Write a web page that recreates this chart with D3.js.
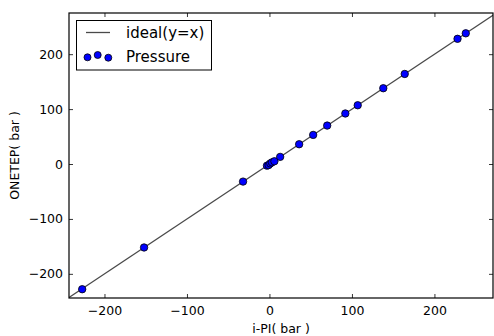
<!DOCTYPE html>
<html>
<head>
<meta charset="utf-8">
<script src="https://cdn.jsdelivr.net/npm/d3@7"></script>
<style>
  body { margin: 0; background: #fff; }
  svg { display: block; }
  svg text { font-family: "DejaVu Sans", sans-serif; }
</style>
</head>
<body>
<svg id="chart" width="494" height="336"></svg>
<script>
// pressures (bar)
const ipiPressure = [-227, -152, -32, -3, -1, 1, 3, 6, 13, 36, 53, 70, 92, 107, 138, 164, 228, 238];
const onetepPressure = [-228, -152, -32, -3, -2, 1, 3, 5, 13, 36, 53, 70, 92, 107, 138, 164, 228, 238];
const xTicks = [-200, -100, 0, 100, 200];
const yTicks = [-200, -100, 0, 100, 200];
const xDomain = [-243, 271];
const yDomain = [-244, 275];
const legendLabels = ["ideal(y=x)", "Pressure"];

const svg = d3.select("#chart");
const margin = { left: 69, right: 1, top: 13, bottom: 38 };
const width = 494 - margin.left - margin.right;
const height = 336 - margin.top - margin.bottom;

const x = d3.scaleLinear().domain(xDomain).range([margin.left, margin.left + width]);
const y = d3.scaleLinear().domain(yDomain).range([margin.top + height, margin.top]);

svg.append("defs").append("clipPath").attr("id", "plot-clip")
    .append("rect")
    .attr("x", margin.left).attr("y", margin.top)
    .attr("width", width).attr("height", height);

const plot = svg.append("g").attr("clip-path", "url(#plot-clip)");

// ideal line y = x
plot.append("line")
    .attr("x1", x(-300)).attr("y1", y(-300))
    .attr("x2", x(300)).attr("y2", y(300))
    .attr("stroke", "#4a4a4a")
    .attr("stroke-width", 1.3);

const points = ipiPressure.map((v, i) => ({ x: v, y: onetepPressure[i] }));
plot.selectAll(".pt")
    .data(points)
    .enter()
    .append("circle")
    .attr("class", "pt")
    .attr("cx", d => x(d.x))
    .attr("cy", d => y(d.y))
    .attr("r", 3.7)
    .attr("fill", "#0000ff")
    .attr("stroke", "#000")
    .attr("stroke-width", 0.8);

// axes with inward ticks on all sides
const tickLen = 4;
const minus = d => String(d).replace("-", "\u2212");
function styleAxis(sel) {
    sel.attr("font-family", null).attr("font-size", null);
    sel.select(".domain").remove();
    sel.selectAll(".tick line").attr("stroke", "#000").attr("stroke-width", 0.8);
    sel.selectAll("text").attr("fill", "#000").style("font-size", "12.5px");
}

svg.append("g")
    .attr("transform", `translate(0,${margin.top + height})`)
    .call(d3.axisBottom(x).tickValues(xTicks).tickSize(-tickLen).tickPadding(8).tickFormat(minus))
    .call(styleAxis);

svg.append("g")
    .attr("transform", `translate(0,${margin.top})`)
    .call(d3.axisTop(x).tickValues(xTicks).tickSize(-tickLen).tickFormat(""))
    .call(styleAxis);

svg.append("g")
    .attr("transform", `translate(${margin.left},0)`)
    .call(d3.axisLeft(y).tickValues(yTicks).tickSize(-tickLen).tickPadding(6).tickFormat(minus))
    .call(styleAxis);

svg.append("g")
    .attr("transform", `translate(${margin.left + width},0)`)
    .call(d3.axisRight(y).tickValues(yTicks).tickSize(-tickLen).tickFormat(""))
    .call(styleAxis);

// frame
svg.append("rect")
    .attr("x", margin.left).attr("y", margin.top)
    .attr("width", width).attr("height", height)
    .attr("fill", "none")
    .attr("stroke", "#000")
    .attr("stroke-width", 1.2);

// axis labels
svg.append("text")
    .attr("x", margin.left + width / 2)
    .attr("y", 333)
    .attr("text-anchor", "middle")
    .style("font-size", "12.5px")
    .text("i-PI( bar )");

svg.append("text")
    .attr("transform", `translate(19,${margin.top + height / 2}) rotate(-90)`)
    .attr("text-anchor", "middle")
    .style("font-size", "12.5px")
    .text("ONETEP( bar )");

// legend
const legend = svg.append("g");
legend.append("rect")
    .attr("x", 76.5).attr("y", 20.5)
    .attr("width", 135).attr("height", 49.5)
    .attr("fill", "#fff")
    .attr("stroke", "#000")
    .attr("stroke-width", 1);
legend.append("line")
    .attr("x1", 86).attr("x2", 110)
    .attr("y1", 32.5).attr("y2", 32.5)
    .attr("stroke", "#4a4a4a")
    .attr("stroke-width", 1.3);
legend.selectAll(".lg-pt")
    .data([[87.5, 57.3], [97.7, 55], [108.3, 57.7]])
    .enter()
    .append("circle")
    .attr("cx", d => d[0]).attr("cy", d => d[1])
    .attr("r", 3.5)
    .attr("fill", "#0000ff")
    .attr("stroke", "#000")
    .attr("stroke-width", 0.8);
legend.selectAll(".lg-text")
    .data(legendLabels)
    .enter()
    .append("text")
    .attr("x", 126)
    .attr("y", (d, i) => 38 + i * 23.5)
    .style("font-size", "15px")
    .text(d => d);
</script>
</body>
</html>
